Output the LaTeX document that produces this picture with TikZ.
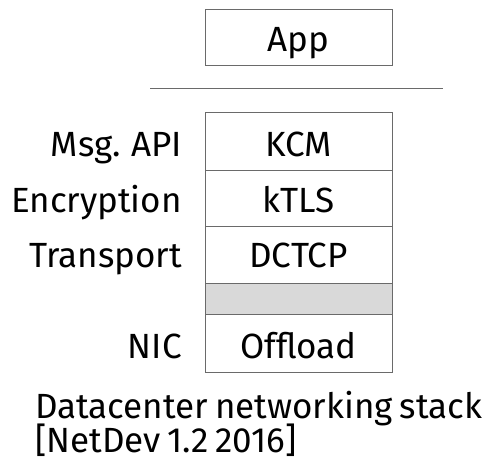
\documentclass[tikz,border=0pt]{standalone}
\usepackage{fontspec}
\setmainfont{Fira Sans}[WordSpace=0.75]
\usepackage{tikz}
\usetikzlibrary{positioning}

\definecolor{edgegray}{HTML}{6A6A6A}
\definecolor{fillgray}{HTML}{D9D9D9}

\tikzset{
  layer/.style={draw=edgegray, line width=1pt, minimum width=187pt,
    minimum height=#1, inner sep=0pt, outer sep=0pt},
  layer/.default=57pt,
  big/.style={font=\fontsize{35}{40}\selectfont, inner sep=0pt}
}

\begin{document}
\begin{tikzpicture}[x=1pt,y=-1pt]
      \useasboundingbox (0,0) rectangle (502,465);

      \node [layer=56pt] (app) at (298.5, 38) {};
      \node [big,anchor=base] (apptxt) at (298.5, 52) {App};
      \coordinate (l1) at (150, 89);
      \coordinate (l2) at (443, 89);
      \draw [edgegray, line width=1pt] (l1) -- (l2);

      \node [layer] (kcm) at (298.5, 141.5) {};
      \node [layer=56pt] (ktls) at (298.5, 198) {};
      \node [layer] (dctcp) at (298.5, 254.5) {};
      \node [layer=31pt, fill=fillgray] (gap) at (298.5, 298.5) {};
      \node [layer=58pt] (offload) at (298.5, 343) {};

      \foreach \n/\b/\t/\s in {kcm/156/KCM/Msg. API, ktls/212/kTLS/Encryption,
                               dctcp/267/DCTCP/Transport, offload/358/Offload/NIC}
               {
                 \node [big,anchor=base] (\n txt) at (298.5, \b) {\t};
                 \node [big,anchor=base east] (\n lbl) at (182, \b) {\s};
               }

      \node [big,anchor=base west] (caption) at (35, 418) {Datacenter networking stack};
      \node [big,anchor=base west] (source) at (35, 452) {[NetDev 1.2 2016]};
    \end{tikzpicture}
\end{document}
